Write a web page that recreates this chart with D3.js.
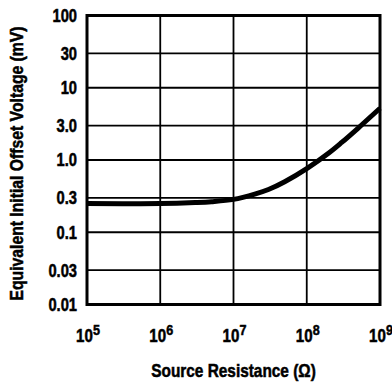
<!DOCTYPE html>
<html>
<head>
<meta charset="utf-8">
<script src="https://cdn.jsdelivr.net/npm/d3@7"></script>
<style>
  html, body { margin: 0; padding: 0; background: #fff; }
  svg { display: block; }
  text { font-family: "Liberation Sans", Arial, sans-serif; font-weight: bold; fill: #000; stroke: #000; stroke-width: 0.5px; }
</style>
</head>
<body>
<svg id="chart" width="392" height="382"></svg>
<script>
// Data
const resistance = [1e5, 1e6, 3e6, 5e6, 1e7, 2e7, 3e7, 5e7, 1e8, 2e8, 3e8, 5e8, 1e9];
const offsetVoltage = [0.25, 0.25, 0.258, 0.265, 0.285, 0.34, 0.39, 0.50, 0.76, 1.25, 1.75, 2.75, 5.2];
const xTicks = [1e5, 1e6, 1e7, 1e8, 1e9];
const xTickExp = ["5", "6", "7", "8", "9"];
const yTicks = [0.01, 0.03, 0.1, 0.3, 1, 3, 10, 30, 100];
const yTickLabels = ["0.01", "0.03", "0.1", "0.3", "1.0", "3.0", "10", "30", "100"];
const xTitle = "Source Resistance (\u03A9)";
const yTitle = "Equivalent Initial Offset Voltage (mV)";

(function () {
const svg = d3.select("#chart");
const pLeft = 87, pRight = 380, pTop = 15.5, pBottom = 304.5;
const narrow = 0.84;

const x = d3.scaleLog().domain([1e5, 1e9]).range([pLeft, pRight]);
const y = d3.scaleLog().domain([0.01, 100]).range([pBottom, pTop]);

// gridlines
const grid = svg.append("g");
grid.selectAll("line.v").data(xTicks.slice(1, -1)).join("line")
  .attr("class", "v")
  .attr("x1", d => x(d)).attr("x2", d => x(d))
  .attr("y1", pTop).attr("y2", pBottom)
  .attr("stroke", "#000").attr("stroke-width", 1.8);
grid.selectAll("line.h").data(yTicks.slice(1, -1)).join("line")
  .attr("class", "h")
  .attr("x1", pLeft).attr("x2", pRight)
  .attr("y1", d => y(d)).attr("y2", d => y(d))
  .attr("stroke", "#000").attr("stroke-width", 1.8);

// frame
svg.append("rect")
  .attr("x", pLeft).attr("y", pTop)
  .attr("width", pRight - pLeft).attr("height", pBottom - pTop)
  .attr("fill", "none").attr("stroke", "#000").attr("stroke-width", 3);

// curve
const line = d3.line().x((d, i) => x(resistance[i])).y(d => y(d)).curve(d3.curveCatmullRom);
svg.append("path")
  .datum(offsetVoltage)
  .attr("d", line)
  .attr("fill", "none").attr("stroke", "#000").attr("stroke-width", 5)
  .attr("stroke-linecap", "butt");

// y tick labels
svg.append("g").selectAll("text").data(yTicks).join("text")
  .attr("transform", d => `translate(77, ${y(d)}) scale(${narrow}, 1)`)
  .attr("text-anchor", "end").attr("dominant-baseline", "central")
  .style("font-size", "17.5px")
  .text((d, i) => yTickLabels[i]);

// x tick labels: 10^n
const xl = svg.append("g").selectAll("text").data(xTicks).join("text")
  .attr("transform", d => `translate(${x(d) + 1}, 342) scale(${narrow}, 1)`)
  .attr("text-anchor", "middle")
  .style("font-size", "18px");
xl.append("tspan").text("10");
xl.append("tspan").attr("dy", -7).style("font-size", "15px").text((d, i) => xTickExp[i]);

// axis titles
svg.append("text")
  .attr("transform", `translate(${(pLeft + pRight) / 2}, 377) scale(0.88, 1)`)
  .attr("text-anchor", "middle")
  .style("font-size", "17.5px")
  .text(xTitle);

svg.append("text")
  .attr("transform", `translate(23, 163.5) rotate(-90) scale(0.9, 1)`)
  .attr("text-anchor", "middle")
  .style("font-size", "17.5px")
  .text(yTitle);
})();
</script>
</body>
</html>
